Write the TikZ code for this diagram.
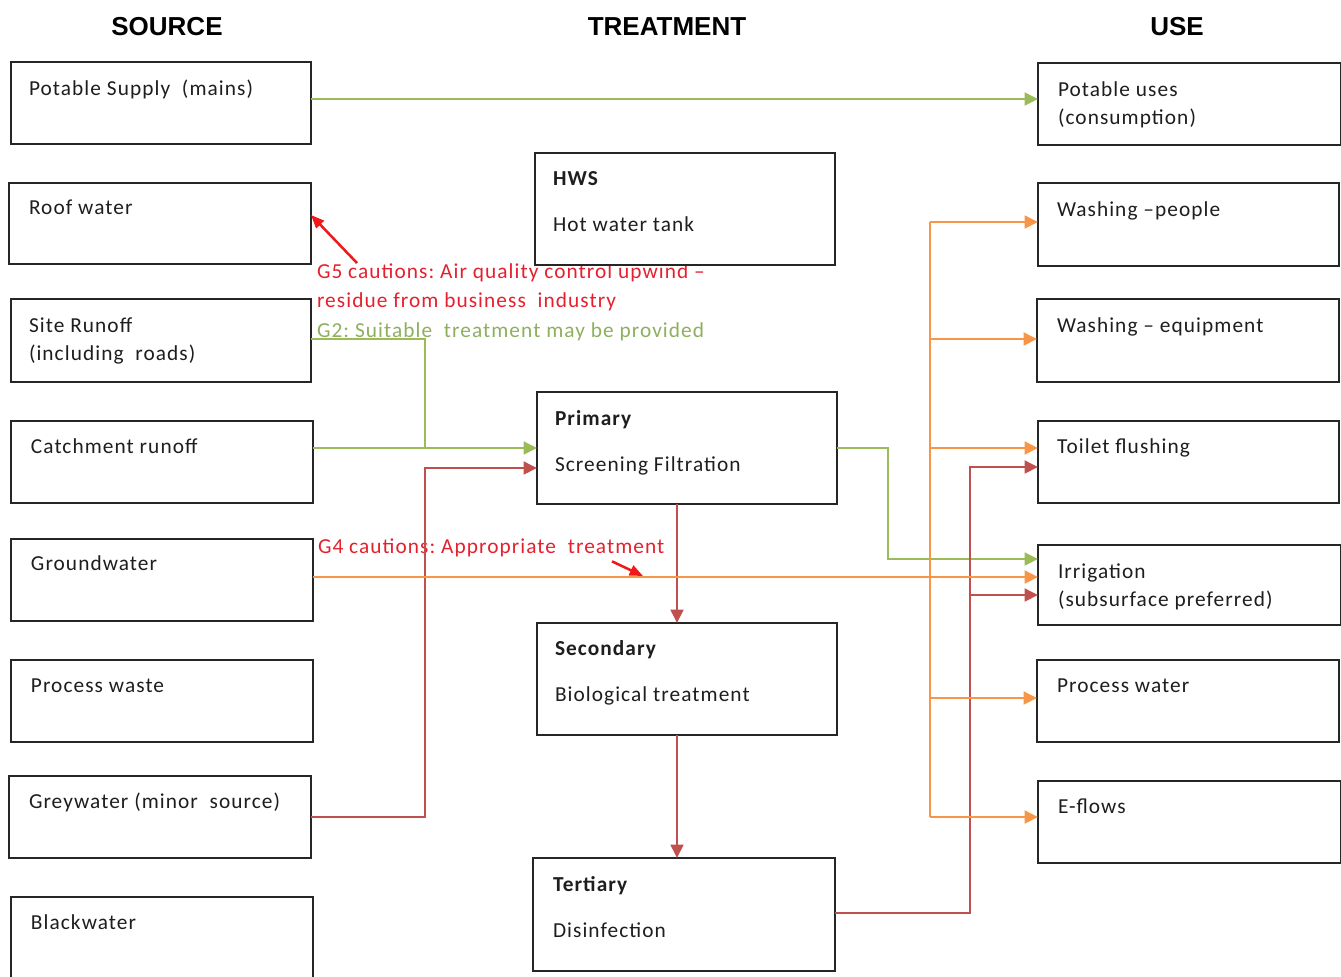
\documentclass[tikz,border=0pt]{standalone}
\usepackage{fontspec}
\setmainfont{Carlito}[LetterSpace=5]
\newfontfamily\hdrfont{Liberation Sans}
\frenchspacing
\usetikzlibrary{arrows.meta,fit,calc}
\definecolor{lgreen}{HTML}{9BBB59}
\definecolor{lred}{HTML}{C0504D}
\definecolor{lorange}{HTML}{F79646}
\definecolor{annred}{HTML}{E5202E}
\definecolor{anngreen}{HTML}{8DAF5E}
\definecolor{arrred}{HTML}{F01818}
\definecolor{boxc}{HTML}{262626}
\definecolor{txtc}{HTML}{1E1E1E}
\tikzset{
  boxst/.style={draw=boxc, line width=1.3pt, fill=white, inner sep=0pt, outer sep=0pt},
  txt/.style={anchor=north west, inner sep=0pt, outer sep=0pt, align=left,
    font=\fontsize{16}{21.5}\selectfont\frenchspacing, text=txtc},
  note/.style={anchor=north west, inner sep=0pt, outer sep=0pt, align=left,
    font=\fontsize{16}{21.75}\selectfont\frenchspacing},
  hdr/.style={anchor=base, inner sep=0pt, font=\hdrfont\bfseries\fontsize{19.5}{24}\selectfont},
  conn/.style={line width=1.9pt},
  tip/.style={-{Triangle[length=10pt,width=9.5pt]}},
  annarrow/.style={draw=arrred, line width=1.9pt, -{Triangle[length=10pt,width=8pt]}},
}
\newcommand\mkbox[5]{\node[boxst, fit={(#2,#3) (#4,#5)}] (#1) {};}
\begin{document}
\begin{tikzpicture}[x=0.75pt,y=-0.75pt]
\useasboundingbox (0,0) rectangle (1341,976);
% headers
\node[hdr] (hsrc) at (167,35) {SOURCE};
\node[hdr] (htrt) at (667,35) {TREATMENT};
\node[hdr] (huse) at (1177,35) {USE};
% annotation texts (partly covered by the HWS box)
\node[note, text=annred] (g5) at (317,258) {\strut G5 cautions: Air quality control upwind –\\residue from business\ \ industry};
\node[note, text=anngreen] (g2) at (317,317) {\strut G2: Suitable\ \ treatment may be provided};
\node[note, text=annred] (g4) at (318,533) {\strut G4 cautions: Appropriate\ \ treatment};
% source boxes
\mkbox{ps}{11}{62}{311}{144}
\mkbox{rw}{9}{183}{311}{264}
\mkbox{sr}{11}{299}{311}{382}
\mkbox{cr}{11}{421}{313}{503}
\mkbox{gw}{11}{539}{313}{621}
\mkbox{pws}{11}{660}{313}{742}
\mkbox{gy}{9}{776}{311}{858}
\mkbox{bw}{11}{897}{313}{1000}
% treatment boxes
\mkbox{hws}{535}{153}{835}{265}
\mkbox{pr}{537}{392}{837}{504}
\mkbox{sc}{537}{623}{837}{735}
\mkbox{te}{533}{858}{835}{971}
% use boxes
\mkbox{pu}{1038}{63}{1341}{145}
\mkbox{wp}{1038}{183}{1339}{266}
\mkbox{we}{1037}{299}{1339}{382}
\mkbox{tf}{1038}{421}{1339}{503}
\mkbox{ir}{1038}{545}{1341}{625}
\mkbox{pwu}{1037}{660}{1339}{742}
\mkbox{ef}{1038}{781}{1341}{863}
% box texts
\node[txt] (pst) at (29,75) {\strut Potable Supply\ \ (mains)};
\node[txt] (rwt) at (29,194) {\strut Roof water};
\node[txt] (srt) at (29,312) {\strut Site Runoff\\(including\ \ roads)};
\node[txt] (crt) at (31,433) {\strut Catchment runoff};
\node[txt] (gwt) at (31,550) {\strut Groundwater};
\node[txt] (pwst) at (31,672) {\strut Process waste};
\node[txt] (gyt) at (29,788) {\strut Greywater (minor\ \ source)};
\node[txt] (bwt) at (31,909) {\strut Blackwater};
\node[txt] (hwst) at (553,165) {\strut\textbf{HWS}\\[13pt]Hot water tank};
\node[txt] (prt) at (555,405) {\strut\textbf{Primary}\\[13pt]Screening Filtration};
\node[txt] (sct) at (555,635) {\strut\textbf{Secondary}\\[13pt]Biological treatment};
\node[txt] (tet) at (553,871) {\strut\textbf{Tertiary}\\[13pt]Disinfection};
\node[txt] (put) at (1058,76) {\strut Potable uses\\(consumption)};
\node[txt] (wpt) at (1057,196) {\strut Washing –people};
\node[txt] (wet) at (1057,312) {\strut Washing – equipment};
\node[txt] (tft) at (1057,433) {\strut Toilet flushing};
\node[txt] (irt) at (1058,558) {\strut Irrigation\\(subsurface preferred)};
\node[txt] (pwut) at (1057,672) {\strut Process water};
\node[txt] (eft) at (1058,793) {\strut E-flows};
% junction coordinates
\coordinate (jA) at (425,339);
\coordinate (jB) at (425,448);
\coordinate (jC) at (425,468);
\coordinate (jD) at (888,559);
\coordinate (jE) at (970,467);
\coordinate (jF) at (970,595);
\coordinate (busT) at (930,222);
\coordinate (busB) at (930,817);
% green connectors
\draw[conn,lgreen,tip] (ps.east |- 0,99) -- (pu.west |- 0,99);
\draw[conn,lgreen] (sr.east |- 0,339) -- (jA) -- (jB);
\draw[conn,lgreen,tip] (cr.east |- 0,448) -- (pr.west |- 0,448);
\draw[conn,lgreen,tip] (pr.east |- 0,448) -| (jD) -- (ir.west |- jD);
% red connectors
\draw[conn,lred,tip] (gy.east |- 0,817) -| (jC) -- (pr.west |- jC);
\draw[conn,lred,tip] (pr.south -| 677,0) -- (sc.north -| 677,0);
\draw[conn,lred,tip] (sc.south -| 677,0) -- (te.north -| 677,0);
\draw[conn,lred,tip] (te.east |- 0,913) -| (jE) -- (tf.west |- jE);
\draw[conn,lred,tip] (jF) -- (ir.west |- jF);
% orange connectors
\draw[conn,lorange,tip] (gw.east |- 0,577) -- (ir.west |- 0,577);
\draw[conn,lorange] (busT) -- (busB);
\foreach \n/\yy in {wp/222, we/339, tf/448, pwu/698, ef/817}
  \draw[conn,lorange,tip] (930,\yy) -- (\n.west |- 0,\yy);
% annotation arrows
\coordinate (g4tip) at (643,576);
\draw[annarrow] ([xshift=30pt,yshift=-3.75pt]g5.north west) -- (rw.east |- 0,215);
\draw[annarrow] ([xshift=220.5pt,yshift=0.5pt]g4.south west) -- (g4tip);
\end{tikzpicture}
\end{document}
